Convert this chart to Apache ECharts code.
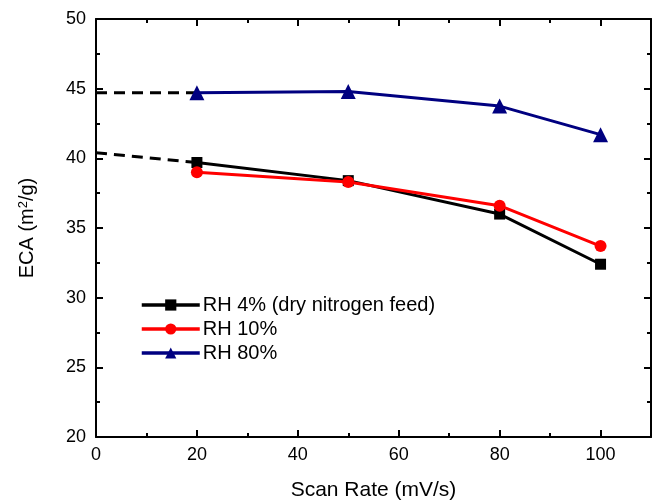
<!DOCTYPE html>
<html><head><meta charset="utf-8">
<script src="https://cdn.jsdelivr.net/npm/echarts@6/dist/echarts.min.js"></script>
<style>html,body{margin:0;padding:0;background:#fff}#c{width:654px;height:500px}</style>
</head><body><div id="c"></div>
<script>
const scanRates = [20, 50, 80, 100];
const rh4 = [39.7, 38.4, 36.0, 32.4];
const rh10 = [39.0, 38.3, 36.6, 33.7];
const rh80 = [44.7, 44.8, 43.75, 41.7];
const extX = [0, 20];
const rh4Ext = [40.4, 39.7];
const rh80Ext = [44.7, 44.7];
const names = ['RH 4% (dry nitrogen feed)', 'RH 10%', 'RH 80%'];

const pair = (xs, ys) => xs.map((x, i) => [x, ys[i]]);
const font = 'Liberation Sans, Arial, sans-serif';
const axisCommon = {
  axisLine: {show: true, onZero: false, lineStyle: {color: '#000', width: 2}},
  axisTick: {show: true, inside: true, length: 7, lineStyle: {color: '#000', width: 2}},
  minorTick: {show: true, splitNumber: 2, length: 4, lineStyle: {color: '#000', width: 2}},
  splitLine: {show: false}
};
const chart = echarts.init(document.getElementById('c'), null, {renderer: 'canvas'});
chart.setOption({
  animation: false,
  grid: {left: 96, right: 3, top: 19, bottom: 63, containLabel: false, outerBoundsMode: 'none'},
  legend: {
    data: names, orient: 'vertical', left: 135, top: 290, itemGap: 4,
    itemWidth: 58, itemHeight: 14,
    lineStyle: {width: 3.5},
    textStyle: {fontFamily: font, fontSize: 20, color: '#000', padding: [0, 0, 0, -2]}
  },
  xAxis: [
    Object.assign({type: 'value', min: 0, max: 110, interval: 20, position: 'bottom',
      name: 'Scan Rate (mV/s)', nameLocation: 'middle', nameGap: 43,
      nameTextStyle: {fontFamily: font, fontSize: 21, color: '#000'},
      axisLabel: {fontFamily: font, fontSize: 18, color: '#000', margin: 9,
        formatter: v => v > 100 ? '' : v}}, axisCommon),
    Object.assign({type: 'value', min: 0, max: 110, interval: 20, position: 'top',
      axisLabel: {show: false}}, axisCommon)
  ],
  yAxis: [
    Object.assign({type: 'value', min: 20, max: 50, interval: 5, position: 'left',
      name: '{t|ECA (m}{s|2}{t|/g)}', nameLocation: 'middle', nameGap: 58, nameRotate: 90,
      nameTextStyle: {rich: {
        t: {fontFamily: font, fontSize: 20, color: '#000'},
        s: {fontFamily: font, fontSize: 13, color: '#000', verticalAlign: 'top', padding: [0, 0, 8, 0]}
      }},
      axisLabel: {fontFamily: font, fontSize: 18, color: '#000', margin: 10}}, axisCommon),
    Object.assign({type: 'value', min: 20, max: 50, interval: 5, position: 'right',
      axisLabel: {show: false}}, axisCommon)
  ],
  series: [
    {name: names[0], type: 'line', data: pair(scanRates, rh4), symbol: 'rect', symbolSize: 11,
      lineStyle: {color: '#000', width: 3}, itemStyle: {color: '#000'}, z: 3},
    {name: names[1], type: 'line', data: pair(scanRates, rh10), symbol: 'circle', symbolSize: 12,
      lineStyle: {color: '#ff0000', width: 3}, itemStyle: {color: '#ff0000'}, z: 4},
    {name: names[2], type: 'line', data: pair(scanRates, rh80), symbol: 'triangle', symbolSize: 15,
      lineStyle: {color: '#000080', width: 3}, itemStyle: {color: '#000080'}, z: 3},
    {type: 'line', data: pair(extX, rh4Ext), symbol: 'none',
      lineStyle: {color: '#000', width: 3, type: [11, 7]}, z: 2},
    {type: 'line', data: pair(extX, rh80Ext), symbol: 'none',
      lineStyle: {color: '#000', width: 3, type: [11, 7]}, z: 2}
  ]
});
</script></body></html>
